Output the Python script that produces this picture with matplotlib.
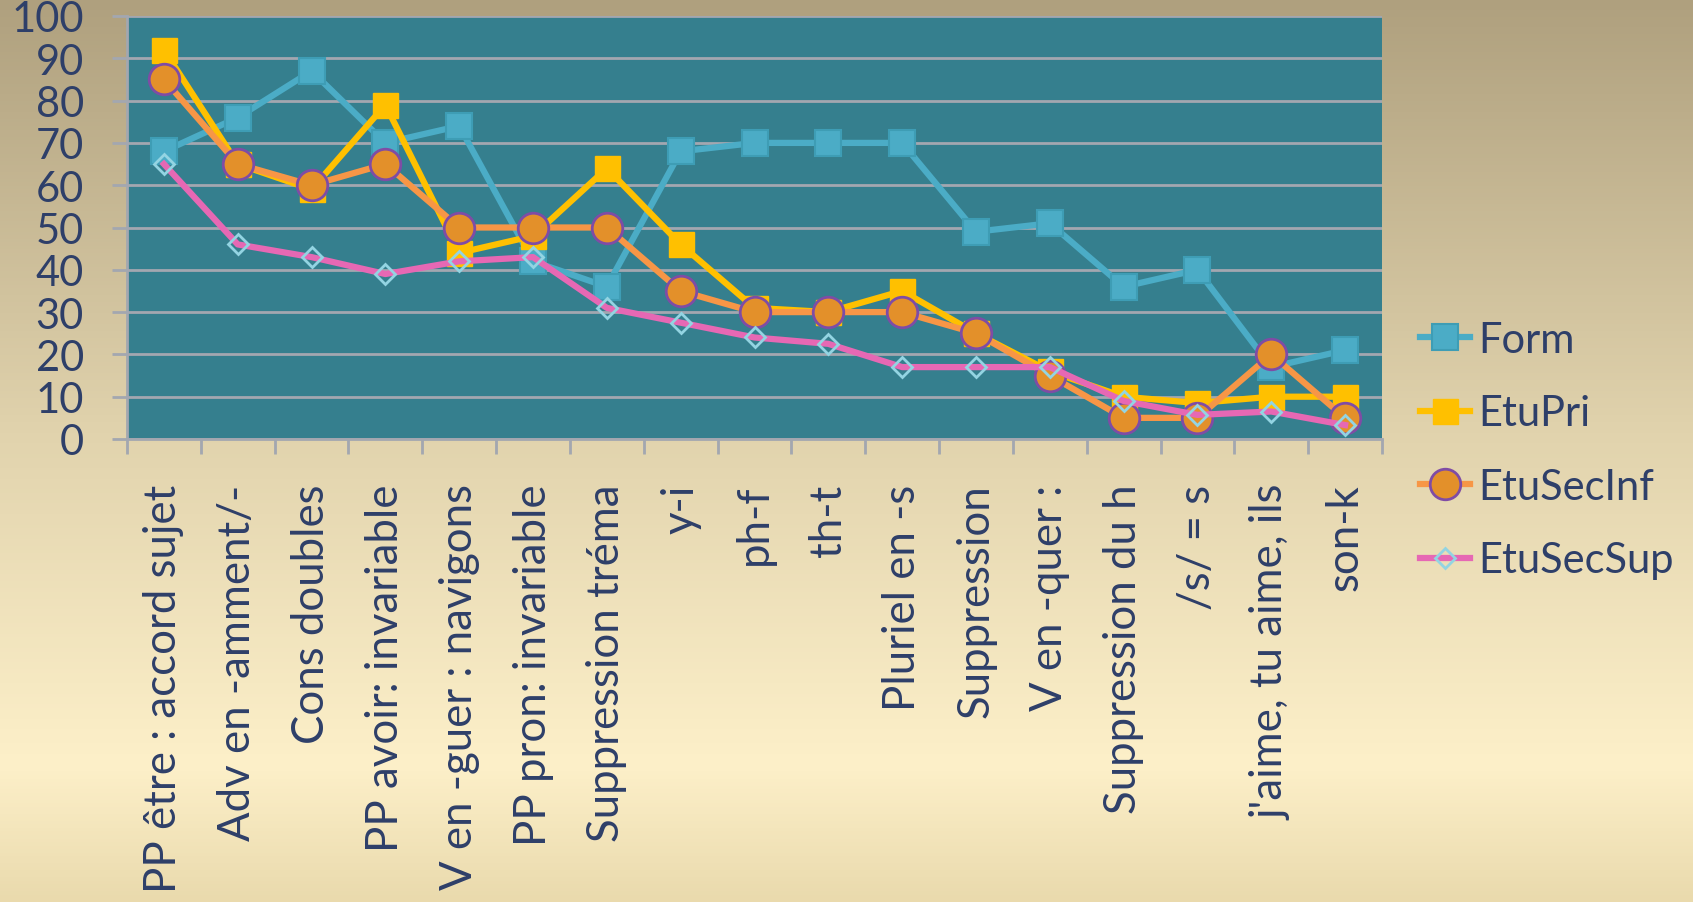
import numpy as np
import matplotlib
matplotlib.use("Agg")
import matplotlib.pyplot as plt
from matplotlib.colors import LinearSegmentedColormap

# categories (x axis) and the four series
categories = ["PP être : accord sujet", "Adv en -amment/-", "Cons doubles",
              "PP avoir: invariable", "V en -guer : navigons", "PP pron: invariable",
              "Suppression tréma", "y-i", "ph-f", "th-t", "Pluriel en -s",
              "Suppression", "V en -quer :", "Suppression du h", "/s/ = s",
              "j'aime, tu aime, ils", "son-k"]
form = [68, 76, 87, 70, 74, 42, 36, 68, 70, 70, 70, 49, 51, 36, 40, 17, 21]
etu_pri = [92, 65, 59, 79, 44, 48, 64, 46, 31, 30, 35, 25, 16, 10, 8.5, 10, 10]
etu_sec_inf = [85, 65, 60, 65, 50, 50, 50, 35, 30, 30, 30, 25, 15, 5, 5, 20, 5]
etu_sec_sup = [65, 46, 43, 39, 42, 43, 31, 27.5, 24, 22.5, 17, 17, 17, 9, 5.7, 6.5, 3.3]

text_col = "#2E3F69"
plt.rcParams["font.family"] = ["Lato", "DejaVu Sans"]

fig = plt.figure(figsize=(16.93, 9.03), dpi=100)

# background gradient (tan at top, pale cream lower down)
bg = fig.add_axes([0, 0, 1, 1], zorder=-10)
bg_cmap = LinearSegmentedColormap.from_list(
    "bg", [(0.0, "#AFA07E"), (0.48, "#E1D3AD"), (0.85, "#FDF0C9"), (1.0, "#EADAAD")])
bg.imshow(np.linspace(0, 1, 256).reshape(-1, 1), aspect="auto", cmap=bg_cmap,
          extent=[0, 1, 1, 0])
bg.axis("off")

ax = fig.add_axes([127 / 1693, 1 - 440 / 903, (1382 - 127) / 1693, (440 - 17) / 903])
ax.set_facecolor("#357F8E")

x = np.arange(len(categories))
ax.plot(x, form, color="#4BACC6", lw=4.5, marker="s", ms=19, mfc="#4BACC6",
        mec="#3E9DB5", mew=1.5, label="Form", zorder=3)
ax.plot(x, etu_pri, color="#FFC000", lw=4.5, marker="s", ms=18, mfc="#FFC000",
        mec="#FFC000", label="EtuPri", zorder=4)
ax.plot(x, etu_sec_inf, color="#F79646", lw=4.5, marker="o", ms=22, mfc="#E3902A",
        mec="#7F4CA5", mew=2, label="EtuSecInf", zorder=5)
ax.plot(x, etu_sec_sup, color="#E668B4", lw=4.5, marker="D", ms=10, mfc="none",
        mec="#93D4E2", mew=2, label="EtuSecSup", zorder=6)

ax.set_xlim(-0.5, len(categories) - 0.5)
ax.set_ylim(0, 100)
ax.set_yticks(range(0, 101, 10))
ax.yaxis.grid(True, color="#A3A7B0", lw=2)
ax.set_axisbelow(True)
for s in ["top", "right"]:
    ax.spines[s].set_visible(False)
for s in ["left", "bottom"]:
    ax.spines[s].set_color("#A3A7B0")
    ax.spines[s].set_linewidth(2)

ax.tick_params(axis="y", length=11, width=2, color="#A3A7B0", labelsize=30,
               labelcolor=text_col, pad=20)
ax.set_xticks(x)
ax.set_xticklabels(categories, rotation=90, va="top", ha="center")
ax.set_xticks(np.arange(-0.5, len(categories)), minor=True)
ax.tick_params(axis="x", which="major", length=0, labelsize=31.5, labelcolor=text_col, pad=32)
ax.tick_params(axis="x", which="minor", length=11, width=2, color="#A3A7B0")

ax.legend(loc="upper left", bbox_to_anchor=(1420 / 1693, 1 - 322 / 903),
          bbox_transform=fig.transFigure, frameon=False, fontsize=30,
          labelcolor=text_col, handlelength=1.2, handletextpad=0.2,
          labelspacing=0.85, borderaxespad=0, borderpad=0)

fig.savefig("out.png", dpi=100)
